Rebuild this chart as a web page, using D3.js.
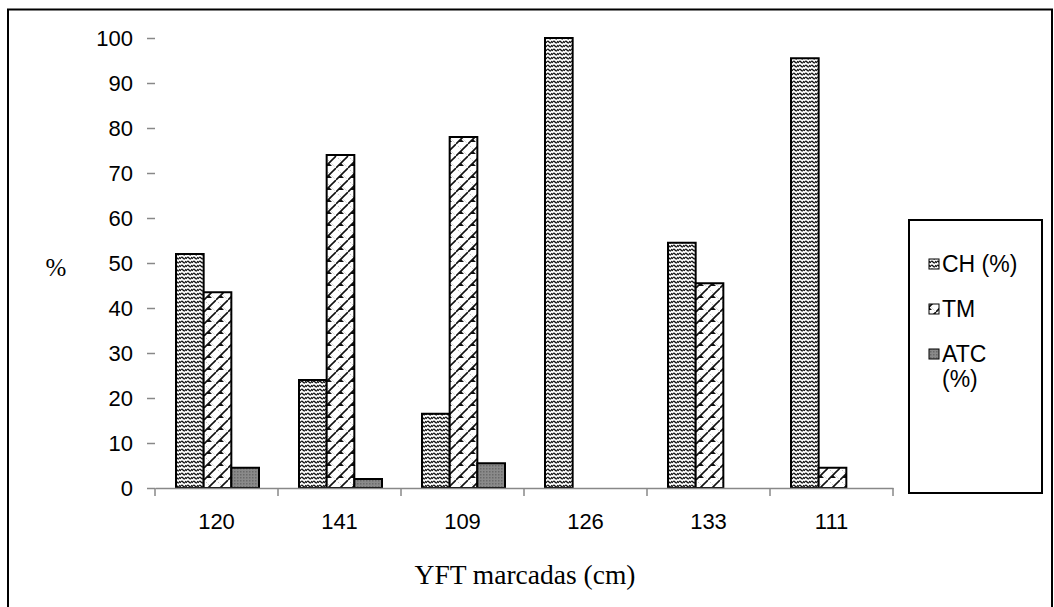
<!DOCTYPE html>
<html>
<head>
<meta charset="utf-8">
<script src="https://cdn.jsdelivr.net/npm/d3@7"></script>
<style>
  html, body { margin: 0; padding: 0; background: #fff; }
  svg { display: block; }
</style>
</head>
<body>
<div id="chart"></div>
<script>
// categories and series
var categories = ['120', '141', '109', '126', '133', '111'];
var seriesNames = ['CH (%)', 'TM', 'ATC (%)'];
var chValues = [52, 24, 16.5, 100, 54.5, 95.5];
var tmValues = [43.5, 74, 78, 0, 45.5, 4.5];
var atcValues = [4.5, 2, 5.5, 0, 0, 0];
var yTicks = [0, 10, 20, 30, 40, 50, 60, 70, 80, 90, 100];

(function () {
    'use strict';

    var width = 1054, height = 607;
    var sans = 'Arial, "Liberation Sans", sans-serif';
    var serif = '"Times New Roman", "Liberation Serif", serif';

    var svg = d3.select('#chart').append('svg')
        .attr('width', width)
        .attr('height', height);

    var defs = svg.append('defs');

    // CH: dense wavy hatch
    var p1 = defs.append('pattern').attr('id', 'pCH')
        .attr('patternUnits', 'userSpaceOnUse').attr('width', 6).attr('height', 4);
    p1.append('rect').attr('width', 6).attr('height', 4).attr('fill', '#fff');
    p1.append('path').attr('d', 'M0,3 Q1.5,0 3,2 T6,1')
        .attr('fill', 'none').attr('stroke', '#111').attr('stroke-width', 1.3);
    p1.append('rect').attr('x', 4).attr('y', 2.5).attr('width', 1).attr('height', 1).attr('fill', '#555');

    // TM: diagonal lines with small knots, faint cross lines
    var p2 = defs.append('pattern').attr('id', 'pTM')
        .attr('patternUnits', 'userSpaceOnUse').attr('width', 12).attr('height', 12);
    p2.append('rect').attr('width', 12).attr('height', 12).attr('fill', '#fff');
    p2.append('path').attr('d', 'M0,0 L12,12')
        .attr('stroke', '#aaa').attr('stroke-width', 0.8).attr('stroke-dasharray', '1.5,1.5');
    p2.append('path').attr('d', 'M-1,13 L13,-1')
        .attr('stroke', '#111').attr('stroke-width', 1.6);
    p2.append('path').attr('d', 'M2,10 L8,10 L5,7 Z').attr('fill', '#111');

    // ATC: gray dotted
    var p3 = defs.append('pattern').attr('id', 'pATC')
        .attr('patternUnits', 'userSpaceOnUse').attr('width', 3).attr('height', 3);
    p3.append('rect').attr('width', 3).attr('height', 3).attr('fill', '#8a8a8a');
    p3.append('rect').attr('width', 1.5).attr('height', 1.5).attr('fill', '#6a6a6a');

    var fills = ['url(#pCH)', 'url(#pTM)', 'url(#pATC)'];
    var series = [chValues, tmValues, atcValues];

    // outer frame
    svg.append('rect')
        .attr('x', 8).attr('y', 9.5)
        .attr('width', 1044).attr('height', 610)
        .attr('fill', 'none').attr('stroke', '#000').attr('stroke-width', 2);

    var x = d3.scaleBand().domain(categories).range([155, 893]);
    var y = d3.scaleLinear().domain([0, 100]).range([488, 38]);
    var inner = d3.scaleBand().domain(d3.range(3)).range([21, x.bandwidth() - 19]);

    // y axis ticks (no axis line)
    var yAxis = svg.append('g').attr('transform', 'translate(155,0)')
        .call(d3.axisLeft(y).tickValues(yTicks).tickSize(8).tickPadding(14));
    yAxis.select('.domain').remove();
    yAxis.selectAll('line').attr('stroke', '#888').attr('stroke-width', 1.5);
    yAxis.attr('font-family', sans).attr('font-size', 22);
    yAxis.selectAll('text').attr('fill', '#000');

    // bars
    series.forEach(function (vals, si) {
        svg.append('g').selectAll('rect')
            .data(vals.map(function (v, i) { return { c: categories[i], v: v }; })
                .filter(function (d) { return d.v > 0; }))
            .enter().append('rect')
            .attr('x', function (d) { return x(d.c) + inner(si); })
            .attr('y', function (d) { return y(d.v); })
            .attr('width', inner.bandwidth())
            .attr('height', function (d) { return y(0) - y(d.v); })
            .attr('fill', fills[si])
            .attr('stroke', '#000')
            .attr('stroke-width', 2);
    });

    // x axis
    var xAxis = svg.append('g').attr('transform', 'translate(0,' + y(0) + ')')
        .call(d3.axisBottom(x).tickSizeInner(0).tickSizeOuter(0).tickPadding(25));
    xAxis.select('.domain').attr('stroke', '#888').attr('stroke-width', 1.5);
    xAxis.attr('font-family', sans).attr('font-size', 22);
    xAxis.selectAll('text').attr('fill', '#000');
    var bounds = categories.map(function (c) { return x(c); }).concat([x.range()[1]]);
    xAxis.selectAll('.sep').data(bounds).enter().append('line')
        .attr('class', 'sep')
        .attr('x1', function (d) { return d; }).attr('x2', function (d) { return d; })
        .attr('y1', 0).attr('y2', 8)
        .attr('stroke', '#888').attr('stroke-width', 1.5);

    // axis titles
    svg.append('text')
        .attr('x', 56).attr('y', 276)
        .attr('text-anchor', 'middle')
        .attr('font-family', serif)
        .attr('font-size', 25)
        .text('%');
    svg.append('text')
        .attr('x', 525).attr('y', 584)
        .attr('text-anchor', 'middle')
        .attr('font-family', serif)
        .attr('font-size', 27.5)
        .text('YFT marcadas (cm)');

    // legend
    var lg = svg.append('g');
    lg.append('rect')
        .attr('x', 909).attr('y', 220)
        .attr('width', 133).attr('height', 273)
        .attr('fill', '#fff').attr('stroke', '#000').attr('stroke-width', 2);
    var legendRows = [
        { lines: ['CH (%)'], y: 264 },
        { lines: ['TM'], y: 309 },
        { lines: ['ATC', '(%)'], y: 354 }
    ];
    legendRows.forEach(function (r, i) {
        lg.append('rect')
            .attr('x', 929).attr('y', r.y - 5)
            .attr('width', 10).attr('height', 10)
            .attr('fill', fills[i]).attr('stroke', '#000').attr('stroke-width', 1);
        var t = lg.append('text')
            .attr('x', 942).attr('y', r.y + 8)
            .attr('font-family', sans)
            .attr('font-size', 23);
        r.lines.forEach(function (s, k) {
            t.append('tspan').attr('x', 942).attr('dy', k === 0 ? 0 : 25).text(s);
        });
    });
})();
</script>
</body>
</html>
